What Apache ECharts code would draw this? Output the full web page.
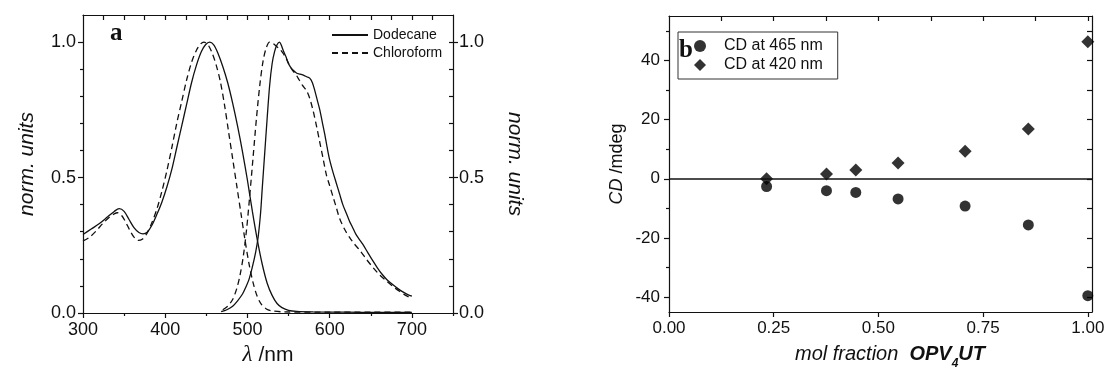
<!DOCTYPE html>
<html>
<head>
<meta charset="utf-8">
<script src="https://cdn.jsdelivr.net/npm/echarts@6/dist/echarts.min.js"></script>
<style>
  html, body { margin: 0; padding: 0; background: #fff; }
  #chart { width: 1106px; height: 372px; }
</style>
</head>
<body>
<div id="chart"></div>
<script>
// ---- Panel a: normalised absorption / emission spectra ----
const dodAbsNm  = [300, 310, 320, 330, 338, 344, 350, 356, 362, 368, 373, 378, 384, 390, 396, 402, 408, 414, 420, 426, 432, 438, 444, 449, 454, 459, 464, 470, 476, 482, 488, 494, 500, 506, 512, 518, 524, 530, 536, 542, 550, 560, 580, 620, 660, 700];
const dodAbsVal = [0.29, 0.31, 0.33, 0.355, 0.375, 0.385, 0.375, 0.345, 0.315, 0.297, 0.292, 0.298, 0.325, 0.365, 0.41, 0.465, 0.53, 0.61, 0.69, 0.77, 0.85, 0.915, 0.965, 0.99, 1.0, 0.99, 0.96, 0.91, 0.85, 0.775, 0.69, 0.595, 0.49, 0.375, 0.27, 0.18, 0.11, 0.065, 0.035, 0.02, 0.01, 0.006, 0.004, 0.003, 0.002, 0.002];

const chlAbsNm  = [300, 308, 316, 324, 332, 338, 342, 347, 352, 357, 362, 367, 372, 378, 384, 390, 396, 402, 408, 414, 420, 426, 432, 438, 443, 447, 452, 457, 462, 467, 472, 477, 482, 487, 492, 497, 502, 507, 512, 517, 523, 530, 545, 600, 650, 700];
const chlAbsVal = [0.266, 0.28, 0.303, 0.33, 0.353, 0.366, 0.37, 0.36, 0.335, 0.305, 0.28, 0.268, 0.272, 0.295, 0.335, 0.385, 0.45, 0.525, 0.61, 0.70, 0.78, 0.86, 0.925, 0.97, 0.993, 1.0, 0.99, 0.96, 0.915, 0.855, 0.77, 0.67, 0.57, 0.47, 0.37, 0.27, 0.18, 0.11, 0.06, 0.032, 0.015, 0.008, 0.004, 0.003, 0.003, 0.003];

const dodEmNm  = [468, 475, 482, 488, 494, 498, 502, 506, 510, 513, 516, 518, 521, 524, 527, 530, 533, 536, 539, 541, 544, 547, 550, 553, 556, 560, 564, 568, 572, 576, 579, 582, 585, 588, 591, 594, 597, 600, 604, 608, 612, 616, 620, 624, 628, 632, 636, 640, 646, 652, 658, 664, 670, 677, 683, 689, 695, 700];
const dodEmVal = [0.005, 0.012, 0.025, 0.045, 0.07, 0.095, 0.125, 0.17, 0.225, 0.28, 0.37, 0.46, 0.59, 0.72, 0.84, 0.92, 0.965, 0.99, 1.0, 0.99, 0.965, 0.945, 0.92, 0.905, 0.895, 0.885, 0.882, 0.878, 0.872, 0.866, 0.85, 0.82, 0.785, 0.75, 0.705, 0.66, 0.61, 0.565, 0.52, 0.48, 0.44, 0.40, 0.37, 0.34, 0.315, 0.29, 0.272, 0.255, 0.225, 0.195, 0.167, 0.142, 0.122, 0.104, 0.09, 0.078, 0.068, 0.062];

const chlEmNm  = [470, 476, 482, 487, 491, 495, 499, 503, 507, 511, 515, 519, 523, 527, 531, 535, 539, 543, 547, 551, 555, 559, 563, 567, 572, 576, 580, 584, 588, 592, 596, 600, 604, 608, 612, 618, 624, 630, 637, 645, 653, 661, 669, 677, 685, 692, 700];
const chlEmVal = [0.012, 0.025, 0.05, 0.09, 0.14, 0.21, 0.31, 0.44, 0.58, 0.72, 0.84, 0.93, 0.98, 1.0, 0.995, 0.985, 0.975, 0.96, 0.94, 0.915, 0.895, 0.88, 0.86, 0.84, 0.82, 0.79, 0.745, 0.69, 0.63, 0.57, 0.51, 0.47, 0.43, 0.39, 0.35, 0.31, 0.28, 0.255, 0.23, 0.197, 0.167, 0.14, 0.118, 0.098, 0.08, 0.066, 0.054];

// ---- Panel b: CD signal against mole fraction ----
const molFraction = [0.233, 0.376, 0.446, 0.547, 0.707, 0.858, 1.0];
const cd465 = [-2.6, -4.0, -4.6, -6.8, -9.2, -15.6, -39.5];
const cd420 = [0.0, 1.6, 3.0, 5.3, 9.3, 16.8, 46.3];

// ---- Tick positions ----
const nmTicks      = [300, 400, 500, 600, 700];
const nmMinorTicks = [350, 450, 550, 650, 750];
const nmTopTicks   = [325, 350, 375, 400, 425, 450, 475, 500, 525, 550, 575, 600, 625, 650, 675, 700, 725];
const normTicks      = [0, 0.5, 1.0];
const normMinorTicks = [0.1, 0.2, 0.3, 0.4, 0.6, 0.7, 0.8, 0.9];
const normInnerTicks = [0.1, 0.2, 0.3, 0.4, 0.5, 0.6, 0.7, 0.8, 0.9, 1.0];
const fracTicks    = [0, 0.25, 0.5, 0.75, 1.0];
const fracTopTicks = [0.125, 0.25, 0.375, 0.5, 0.625, 0.75, 0.875, 1.0];
const cdTicks      = [-40, -20, 0, 20, 40];
const cdMinorTicks = [-30, -10, 10, 30, 50];
const cdInnerTicks = [-40, -30, -20, -10, 0, 10, 20, 30, 40, 50];

const INK = '#111';
const SANS = '"Liberation Sans", Arial, Helvetica, sans-serif';
const SERIF = '"Liberation Serif", "DejaVu Serif", serif';
const DIAMOND_ICON = 'path://M5 0L10 5L5 10L0 5Z';

const pairs = (xs, ys) => xs.map((x, i) => [x, ys[i]]);

function axis(extra) {
  return Object.assign({
    type: 'value',
    silent: true,
    splitLine: { show: false },
    axisLine: { show: false, onZero: false, lineStyle: { color: INK, width: 1.2 } },
    axisTick: { show: false },
    axisLabel: { show: false }
  }, extra);
}
function ticks(values, length, inside) {
  return { show: true, customValues: values, length: length, inside: !!inside,
           lineStyle: { color: INK, width: 1.2 } };
}
function labels(values, digits, margin, size) {
  return { show: true, customValues: values, margin: margin,
           formatter: v => Number(v).toFixed(digits),
           fontFamily: SANS, fontSize: size, color: INK };
}
const frame = { show: true, onZero: false, lineStyle: { color: INK, width: 1.2 } };

const nmRange   = { min: 300, max: 750 };
const normRange = { min: 0, max: 1.1 };
const fracRange = { min: 0, max: 1.01 };
const cdRange   = { min: -45, max: 55 };

const option = {
  animation: false,
  backgroundColor: '#fff',
  textStyle: { fontFamily: SANS, color: INK },
  grid: [
    { left: 83, right: 653, top: 15, height: 298, outerBoundsMode: 'none', containLabel: false },
    { left: 669, right: 14, top: 16, height: 296, outerBoundsMode: 'none', containLabel: false }
  ],
  xAxis: [
    // panel a
    axis(Object.assign({ gridIndex: 0, position: 'bottom', axisLine: frame,
      axisTick: ticks(nmTicks, 5), axisLabel: labels(nmTicks, 0, 8, 18),
      name: '{l|λ} /nm', nameLocation: 'middle', nameGap: 30,
      nameTextStyle: { fontFamily: SANS, fontSize: 21, color: INK,
        rich: { l: { fontFamily: SERIF, fontStyle: 'italic', fontSize: 23, color: INK } } }
    }, nmRange)),
    axis(Object.assign({ gridIndex: 0, position: 'bottom', axisTick: ticks(nmMinorTicks, 3) }, nmRange)),
    axis(Object.assign({ gridIndex: 0, position: 'top', axisLine: frame, axisTick: ticks(nmTopTicks, 5, true) }, nmRange)),
    // panel b
    axis(Object.assign({ gridIndex: 1, position: 'bottom', axisLine: frame,
      axisTick: ticks(fracTicks, 5), axisLabel: labels(fracTicks, 2, 8, 17),
      name: '{i|mol fraction}  {b|OPV}{s|4}{b|UT}', nameLocation: 'middle', nameGap: 27,
      nameTextStyle: { fontFamily: SANS, fontSize: 20, color: INK, padding: [0, 0, 0, 19],
        rich: {
          i: { fontFamily: SANS, fontStyle: 'italic', fontSize: 20, color: INK },
          b: { fontFamily: SANS, fontStyle: 'italic', fontWeight: 'bold', fontSize: 20, color: INK },
          s: { fontFamily: SANS, fontStyle: 'italic', fontWeight: 'bold', fontSize: 12, color: INK,
               lineHeight: 31, verticalAlign: 'bottom' }
        } }
    }, fracRange)),
    axis(Object.assign({ gridIndex: 1, position: 'top', axisLine: frame, axisTick: ticks(fracTopTicks, 5, true) }, fracRange))
  ],
  yAxis: [
    // panel a
    axis(Object.assign({ gridIndex: 0, position: 'left', axisLine: frame,
      axisTick: ticks(normTicks, 5), axisLabel: labels(normTicks, 1, 7, 18),
      name: 'norm. units', nameLocation: 'middle', nameGap: 45,
      nameTextStyle: { fontFamily: SANS, fontStyle: 'italic', fontSize: 21, color: INK }
    }, normRange)),
    axis(Object.assign({ gridIndex: 0, position: 'left', axisTick: ticks(normMinorTicks, 3) }, normRange)),
    axis(Object.assign({ gridIndex: 0, position: 'right', axisLine: frame,
      axisTick: ticks(normTicks, 5), axisLabel: labels(normTicks, 1, 6, 18),
      name: 'norm. units', nameLocation: 'middle', nameGap: 51, nameRotate: -90,
      nameTextStyle: { fontFamily: SANS, fontStyle: 'italic', fontSize: 21, color: INK }
    }, normRange)),
    axis(Object.assign({ gridIndex: 0, position: 'right', axisTick: ticks(normInnerTicks, 4, true) }, normRange)),
    // panel b
    axis(Object.assign({ gridIndex: 1, position: 'left', axisLine: frame,
      axisTick: ticks(cdTicks, 5), axisLabel: labels(cdTicks, 0, 9, 17),
      name: '{i|CD} /mdeg', nameLocation: 'middle', nameGap: 43,
      nameTextStyle: { fontFamily: SANS, fontSize: 18, color: INK,
        rich: { i: { fontFamily: SANS, fontStyle: 'italic', fontSize: 18, color: INK } } }
    }, cdRange)),
    axis(Object.assign({ gridIndex: 1, position: 'left', axisTick: ticks(cdMinorTicks, 3) }, cdRange)),
    axis(Object.assign({ gridIndex: 1, position: 'right', axisLine: frame, axisTick: ticks(cdInnerTicks, 5, true) }, cdRange))
  ],
  legend: [
    {
      data: ['Dodecane', 'Chloroform'],
      orient: 'vertical', left: 331, top: 28, padding: 0,
      itemWidth: 36, itemHeight: 14, itemGap: 4,
      itemStyle: { opacity: 0 },
      textStyle: { fontFamily: SANS, fontSize: 14, color: INK, lineHeight: 14 },
      selectedMode: false
    },
    {
      data: [{ name: 'CD at 465 nm', icon: 'circle' }, { name: 'CD at 420 nm', icon: DIAMOND_ICON }],
      orient: 'vertical', left: 678, top: 32, padding: [6, 15, 6, 16],
      itemWidth: 12, itemHeight: 12, itemGap: 3,
      borderColor: '#333', borderWidth: 1,
      textStyle: { fontFamily: SANS, fontSize: 16, color: INK, lineHeight: 16, padding: [0, 0, 0, 13] },
      selectedMode: false
    }
  ],
  graphic: [
    { type: 'text', left: 110, top: 21, silent: true,
      style: { text: 'a', font: 'bold 25px ' + SERIF, fill: INK } },
    { type: 'text', left: 679, top: 38, silent: true, z: 100,
      style: { text: 'b', font: 'bold 25px ' + SERIF, fill: INK } }
  ],
  series: [
    { name: 'Dodecane', type: 'line', xAxisIndex: 0, yAxisIndex: 0, data: pairs(dodAbsNm, dodAbsVal),
      symbol: 'none', smooth: 0.3, color: INK, lineStyle: { color: INK, width: 1.3 } },
    { name: 'Dodecane', type: 'line', xAxisIndex: 0, yAxisIndex: 0, data: pairs(dodEmNm, dodEmVal),
      symbol: 'none', smooth: 0.3, color: INK, lineStyle: { color: INK, width: 1.3 } },
    { name: 'Chloroform', type: 'line', xAxisIndex: 0, yAxisIndex: 0, data: pairs(chlAbsNm, chlAbsVal),
      symbol: 'none', smooth: 0.3, color: INK, lineStyle: { color: INK, width: 1.3, type: [6, 4] } },
    { name: 'Chloroform', type: 'line', xAxisIndex: 0, yAxisIndex: 0, data: pairs(chlEmNm, chlEmVal),
      symbol: 'none', smooth: 0.3, color: INK, lineStyle: { color: INK, width: 1.3, type: [6, 4] } },
    { name: 'CD at 465 nm', type: 'scatter', xAxisIndex: 3, yAxisIndex: 4, data: pairs(molFraction, cd465),
      symbol: 'circle', symbolSize: 11, clip: false, itemStyle: { color: '#000' },
      markLine: { silent: true, symbol: 'none', label: { show: false },
        lineStyle: { color: INK, width: 1.5, type: 'solid' }, data: [{ yAxis: 0 }] } },
    { name: 'CD at 420 nm', type: 'scatter', xAxisIndex: 3, yAxisIndex: 4, data: pairs(molFraction, cd420),
      symbol: 'diamond', symbolSize: [13, 13], clip: false, itemStyle: { color: '#000' } }
  ]
};

const chart = echarts.init(document.getElementById('chart'), null, { renderer: 'canvas' });
chart.setOption(option);
</script>
</body>
</html>
